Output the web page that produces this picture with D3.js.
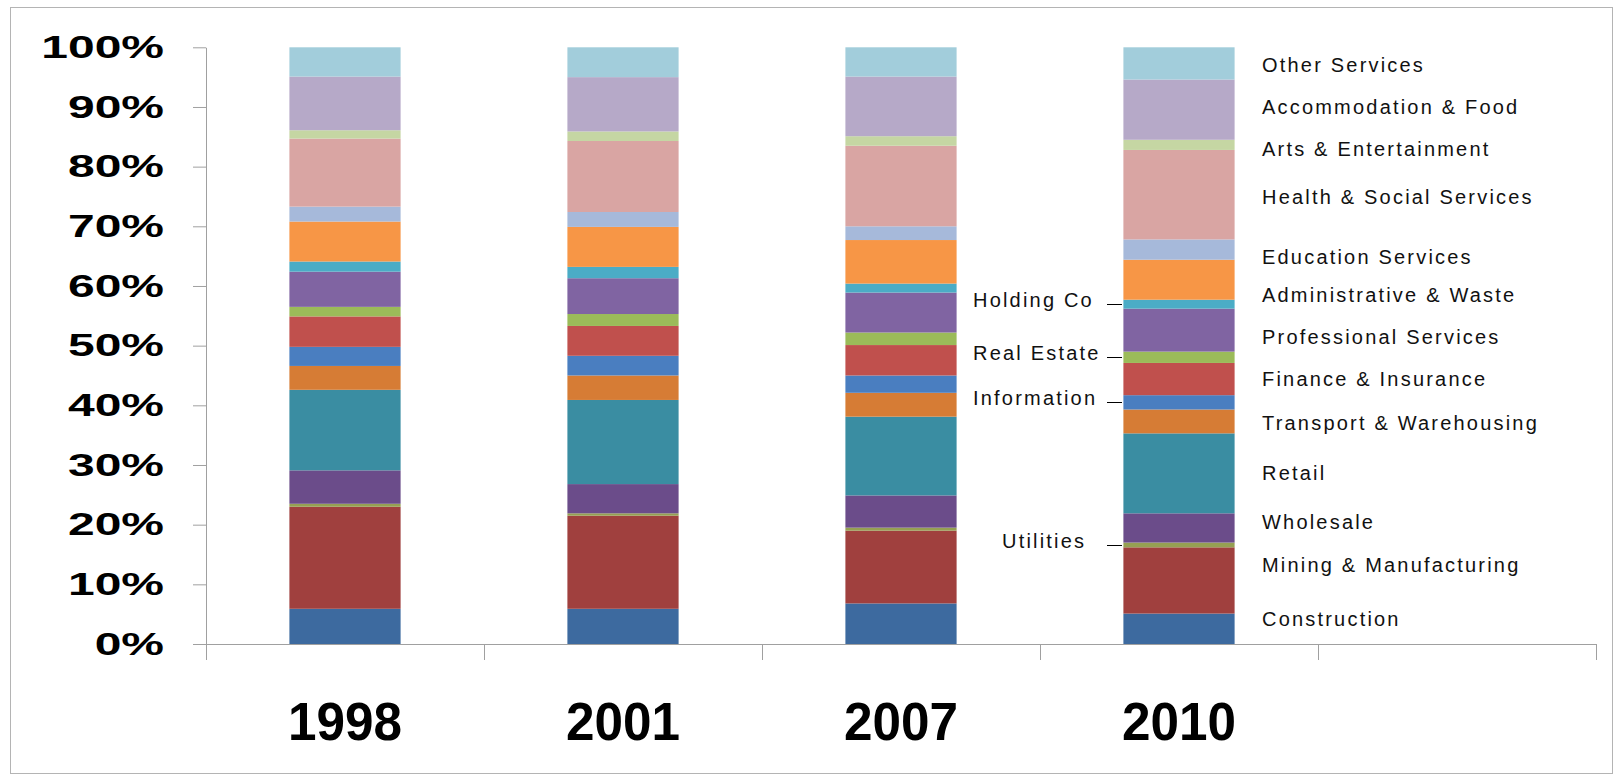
<!DOCTYPE html>
<html>
<head>
<meta charset="utf-8">
<script src="https://cdn.jsdelivr.net/npm/d3@7"></script>
<style>
  body { margin: 0; background: #fff; }
  svg { display: block; }
  text { font-family: "Liberation Sans", Arial, sans-serif; }
</style>
</head>
<body>
<svg id="chart" width="1622" height="779"></svg>
<script>
// Survey years (the fifth axis slot is left empty for the sector labels)
const years = ["1998", "2001", "2007", "2010"];

// Sector order, bottom of the stack to top
const sectors = [
  "Construction", "Mining & Manufacturing", "Utilities", "Wholesale", "Retail",
  "Transport & Warehousing", "Information", "Finance & Insurance", "Real Estate",
  "Professional Services", "Holding Co", "Administrative & Waste", "Education Services",
  "Health & Social Services", "Arts & Entertainment", "Accommodation & Food", "Other Services"
];

// Share of total (%) per sector, one value per year: 1998, 2001, 2007, 2010
const construction   = [5.9, 5.9, 6.8, 5.1];
const mining         = [17.1, 15.6, 12.2, 11.1];
const utilities      = [0.5, 0.4, 0.5, 0.8];
const wholesale      = [5.6, 4.9, 5.4, 4.9];
const retail         = [13.5, 14.1, 13.2, 13.4];
const transport      = [4.0, 4.1, 4.0, 4.0];
const information    = [3.2, 3.3, 2.9, 2.4];
const finance        = [5.1, 5.0, 5.1, 5.4];
const realEstate     = [1.6, 2.0, 2.1, 1.9];
const professional   = [5.9, 6.0, 6.7, 7.2];
const holdingCo      = [1.7, 1.9, 1.5, 1.5];
const administrative = [6.7, 6.7, 7.3, 6.7];
const education      = [2.5, 2.5, 2.3, 3.4];
const health         = [11.4, 11.9, 13.5, 15.0];
const arts           = [1.4, 1.6, 1.6, 1.7];
const accommodation  = [9.0, 9.1, 10.0, 10.1];
const otherServices  = [4.9, 5.0, 4.9, 5.4];

const yTicks = [0, 10, 20, 30, 40, 50, 60, 70, 80, 90, 100];

const seriesValues = [
  construction, mining, utilities, wholesale, retail, transport, information,
  finance, realEstate, professional, holdingCo, administrative, education,
  health, arts, accommodation, otherServices
];

// Rows for d3.stack
const rows = years.map((yr, i) => {
  const r = { year: yr };
  sectors.forEach((s, k) => { r[s] = seriesValues[k][i]; });
  return r;
});

const colors = [
  "#3D6A9F", "#A0403E", "#96A052", "#6B4C8A", "#3A8DA2", "#D67C35", "#4A7EC0",
  "#C0504D", "#9BBB59", "#8064A2", "#4BACC6", "#F79646", "#A6B9DA",
  "#D9A5A3", "#C5D6A3", "#B6A9C8", "#A2CDDB"
];
const color = d3.scaleOrdinal().domain(sectors).range(colors);

const svg = d3.select("#chart");

// outer frame
svg.append("rect")
  .attr("x", 10.5).attr("y", 7.5).attr("width", 1602).attr("height", 766)
  .attr("fill", "none").attr("stroke", "#b4b4b4");

const plotLeft = 206, plotRight = 1596, plotTop = 47.3, plotBottom = 644;

const slots = years.concat([""]);
const x = d3.scaleBand().domain(slots).range([plotLeft, plotRight])
  .paddingInner(0.6).paddingOuter(0.3);
const y = d3.scaleLinear().domain([0, 100]).range([plotBottom, plotTop]);

const stacked = d3.stack().keys(sectors)(rows);

// stacked bars
svg.append("g")
  .selectAll("g")
  .data(stacked)
  .join("g")
  .attr("fill", d => color(d.key))
  .selectAll("rect")
  .data(d => d)
  .join("rect")
  .attr("x", d => x(d.data.year))
  .attr("width", x.bandwidth())
  .attr("y", d => y(d[1]))
  .attr("height", d => y(d[0]) - y(d[1]));

// y axis
const yAxis = svg.append("g")
  .attr("transform", `translate(${plotLeft},0)`)
  .call(d3.axisLeft(y).tickValues(yTicks).tickSize(13).tickSizeOuter(0)
    .tickFormat(d => d + "%"));
yAxis.select(".domain").attr("stroke", "#a0a0a0");
yAxis.selectAll(".tick line").attr("stroke", "#a0a0a0");
yAxis.selectAll(".tick text")
  .attr("x", 0)
  .attr("transform", `translate(-42,0) scale(1.5,1)`)
  .attr("font-size", 32)
  .attr("font-weight", "bold")
  .attr("fill", "#000")
  .style("font-family", "'Liberation Sans', Arial, sans-serif");

// x axis: baseline with ticks at slot boundaries
const xAxis = svg.append("g");
xAxis.append("line")
  .attr("x1", plotLeft - 13).attr("x2", plotRight)
  .attr("y1", plotBottom + 0.5).attr("y2", plotBottom + 0.5)
  .attr("stroke", "#a0a0a0");
const bounds = d3.range(slots.length + 1).map(i => plotLeft + i * x.step());
xAxis.selectAll("line.tk")
  .data(bounds)
  .join("line")
  .attr("class", "tk")
  .attr("x1", d => d + 0.5).attr("x2", d => d + 0.5)
  .attr("y1", plotBottom).attr("y2", plotBottom + 16)
  .attr("stroke", "#a0a0a0");

// year labels
xAxis.selectAll("text")
  .data(years)
  .join("text")
  .attr("x", d => x(d) + x.bandwidth() / 2)
  .attr("y", 740)
  .attr("text-anchor", "middle")
  .attr("font-size", 54)
  .attr("font-weight", "bold")
  .attr("textLength", 114)
  .attr("lengthAdjust", "spacingAndGlyphs")
  .text(d => d);

// sector labels next to the last bar
const last = stacked.map(s => ({ key: s.key, lo: s[3][0], hi: s[3][1] }));
const mid = d => y((d.lo + d.hi) / 2);

const rightShift = {
  "Construction": -10, "Mining & Manufacturing": -15.5, "Wholesale": -6, "Retail": 0,
  "Transport & Warehousing": 1.5, "Finance & Insurance": 0, "Professional Services": 7,
  "Administrative & Waste": 15, "Education Services": 7, "Health & Social Services": 2,
  "Arts & Entertainment": 4, "Accommodation & Food": -3, "Other Services": 1.5
};
const leftLabels = { "Holding Co": 973, "Real Estate": 973, "Information": 973, "Utilities": 1002 };

const lab = svg.append("g").attr("font-size", 20).attr("fill", "#111")
  .style("letter-spacing", "2.2px");

lab.selectAll("text.r")
  .data(last.filter(d => d.key in rightShift))
  .join("text")
  .attr("class", "r")
  .attr("x", 1262)
  .attr("y", d => mid(d) + rightShift[d.key])
  .attr("dy", "0.35em")
  .text(d => d.key);

const lefts = last.filter(d => d.key in leftLabels);
lab.selectAll("text.l")
  .data(lefts)
  .join("text")
  .attr("class", "l")
  .attr("x", d => leftLabels[d.key])
  .attr("y", d => mid(d) - 4)
  .attr("dy", "0.35em")
  .text(d => d.key);

svg.append("g").selectAll("line")
  .data(lefts)
  .join("line")
  .attr("x1", 1107).attr("x2", 1122)
  .attr("y1", d => Math.round(mid(d)) + 0.5)
  .attr("y2", d => Math.round(mid(d)) + 0.5)
  .attr("stroke", "#000");
</script>
</body>
</html>
